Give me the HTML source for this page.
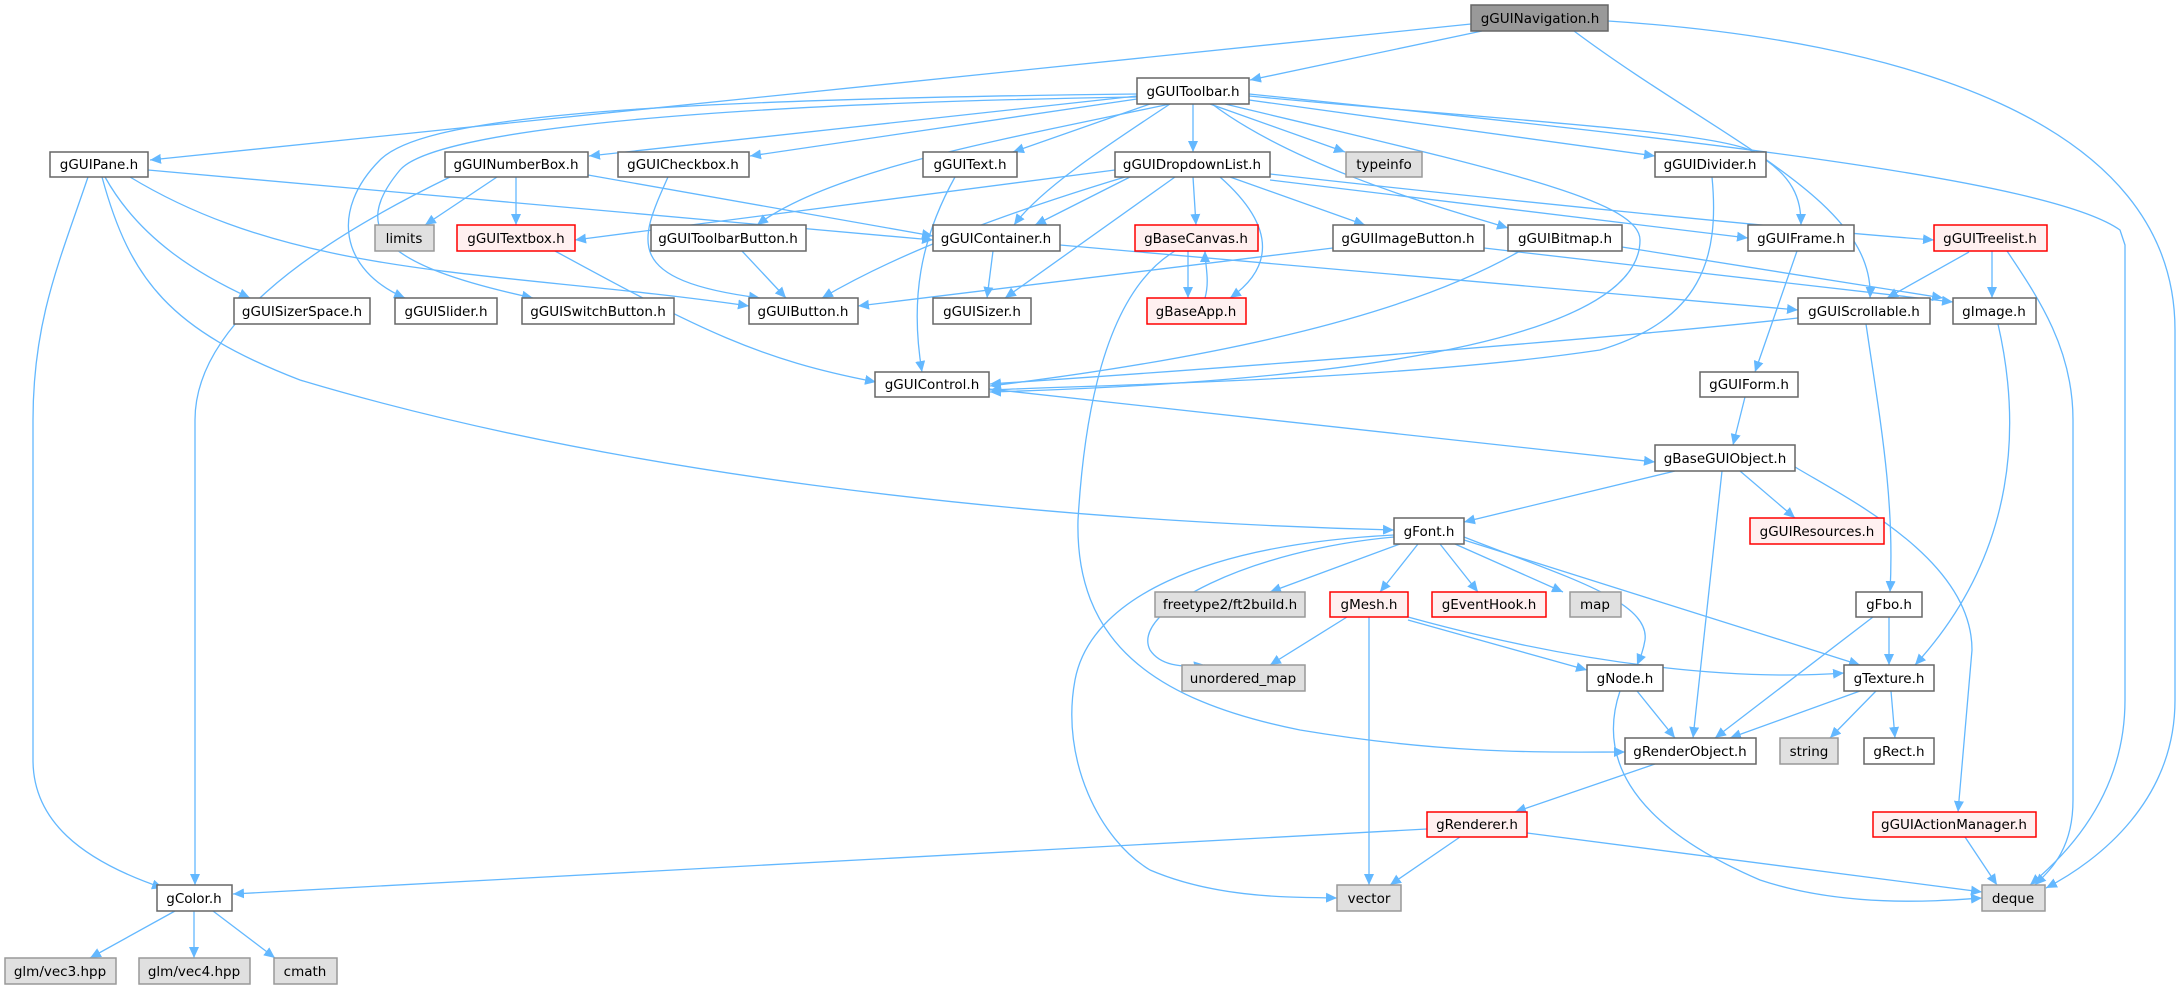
<!DOCTYPE html>
<html><head><meta charset="utf-8"><style>
html,body{margin:0;padding:0;background:#fff;}
svg text{font-family:"DejaVu Sans","Liberation Sans",sans-serif;font-size:13.5px;fill:#000;text-anchor:middle;}
.e{fill:none;stroke:#63b8ff;stroke-width:1.3;marker-end:url(#a);}
.n rect{fill:#fff;stroke:#666;stroke-width:1.5;}
.g rect{fill:#e0e0e0;stroke:#999;stroke-width:1.5;}
.r rect{fill:#fff0f0;stroke:#f00;stroke-width:1.5;}
.t rect{fill:#999;stroke:#666;stroke-width:1.5;}
</style></head><body>
<svg width="2179" height="989" viewBox="0 0 2179 989" xmlns="http://www.w3.org/2000/svg">
<defs><marker id="a" markerUnits="userSpaceOnUse" markerWidth="12" markerHeight="10" refX="11" refY="5" orient="auto"><path d="M0,0 L11,5 L0,10 z" fill="#63b8ff"/></marker></defs>
<g>
<path class="e" d="M1471,24 L150,160"/>
<path class="e" d="M1482,31 L1250,80"/>
<path class="e" d="M1574,31 C1720,140 1875,200 1870,298"/>
<path class="e" d="M1608,21 C1900,40 2175,120 2175,330 L2175,700 C2175,800 2100,860 2046,888"/>
<path class="e" d="M1137,96 L589,156"/>
<path class="e" d="M1137,99 L750,156"/>
<path class="e" d="M1150,104 L1013,152"/>
<path class="e" d="M1137,94 C600,100 420,120 380,160 C330,210 340,270 405,298"/>
<path class="e" d="M1137,97 C650,105 430,135 400,170 C350,230 380,265 533,298"/>
<path class="e" d="M1170,104 C1000,140 830,170 757,225"/>
<path class="e" d="M1170,104 C1100,150 1040,190 1014,225"/>
<path class="e" d="M1193,104 L1193,152"/>
<path class="e" d="M1210,104 L1345,152"/>
<path class="e" d="M1212,104 C1300,170 1450,210 1508,228"/>
<path class="e" d="M1225,104 C1500,170 1640,200 1640,240 C1640,330 1400,380 990,392"/>
<path class="e" d="M1249,100 L1655,156"/>
<path class="e" d="M1249,96 C1500,120 1700,130 1750,150 C1795,175 1801,200 1801,225"/>
<path class="e" d="M1249,94 C1700,140 2050,180 2120,230 L2125,245 L2125,700 C2125,800 2060,860 2030,885"/>
<path class="e" d="M148,170 L933,240"/>
<path class="e" d="M130,177 C300,280 500,270 749,306"/>
<path class="e" d="M105,177 C140,240 200,275 250,298"/>
<path class="e" d="M102,177 C130,280 170,330 300,380 C600,470 1000,520 1394,530"/>
<path class="e" d="M88,177 C60,260 33,320 33,420 L33,760 C33,820 80,860 163,888"/>
<path class="e" d="M450,177 C300,250 195,330 195,420 L195,885"/>
<path class="e" d="M497,177 L425,225"/>
<path class="e" d="M516,177 L516,225"/>
<path class="e" d="M588,175 L933,236"/>
<path class="e" d="M668,177 C640,240 620,280 760,298"/>
<path class="e" d="M955,177 C920,240 910,300 922,372"/>
<path class="e" d="M555,251 C700,330 760,360 876,382"/>
<path class="e" d="M742,251 L786,298"/>
<path class="e" d="M993,251 L987,298"/>
<path class="e" d="M1060,245 L1798,310"/>
<path class="e" d="M1115,170 L575,240"/>
<path class="e" d="M1130,177 L1035,225"/>
<path class="e" d="M1125,177 C950,230 870,270 822,298"/>
<path class="e" d="M1175,177 L1005,298"/>
<path class="e" d="M1193,177 L1196,225"/>
<path class="e" d="M1220,177 C1280,230 1270,270 1230,298"/>
<path class="e" d="M1230,177 L1365,225"/>
<path class="e" d="M1270,180 L1748,238"/>
<path class="e" d="M1270,174 C1500,200 1800,230 1934,240"/>
<path class="e" d="M1188,251 L1188,298"/>
<path class="e" d="M1205,298 C1210,280 1205,265 1205,251"/>
<path class="e" d="M1175,251 C1110,290 1085,400 1078,520 C1075,640 1150,700 1300,730 C1450,755 1550,752 1625,752"/>
<path class="e" d="M1394,535 C1200,545 1090,600 1075,680 C1060,760 1100,840 1150,870 C1220,900 1300,897 1337,898"/>
<path class="e" d="M1394,537 C1250,550 1130,610 1150,650 C1160,665 1180,668 1205,665"/>
<path class="e" d="M1400,544 L1270,592"/>
<path class="e" d="M1418,544 L1380,592"/>
<path class="e" d="M1440,544 L1478,592"/>
<path class="e" d="M1455,544 L1563,592"/>
<path class="e" d="M1464,540 L1860,665"/>
<path class="e" d="M1464,537 C1560,575 1650,600 1645,640 C1643,652 1640,658 1637,665"/>
<path class="e" d="M1347,617 L1270,665"/>
<path class="e" d="M1369,617 L1369,885"/>
<path class="e" d="M1408,620 L1587,670"/>
<path class="e" d="M1408,617 C1600,670 1750,680 1844,673"/>
<path class="e" d="M1675,471 L1464,522"/>
<path class="e" d="M1722,471 L1693,738"/>
<path class="e" d="M1740,471 L1795,518"/>
<path class="e" d="M1795,467 C1850,500 1972,560 1972,650 L1958,812"/>
<path class="e" d="M1745,397 L1733,445"/>
<path class="e" d="M989,389 L1655,462"/>
<path class="e" d="M1797,251 L1755,372"/>
<path class="e" d="M1712,177 C1720,260 1700,320 1600,350 C1400,380 1100,385 990,390"/>
<path class="e" d="M1520,251 C1400,320 1200,360 990,386"/>
<path class="e" d="M1798,318 C1600,340 1200,370 990,384"/>
<path class="e" d="M1866,324 C1880,420 1895,500 1890,592"/>
<path class="e" d="M1333,248 L858,306"/>
<path class="e" d="M1484,248 L1953,302"/>
<path class="e" d="M1622,247 L1943,298"/>
<path class="e" d="M1969,252 L1887,298"/>
<path class="e" d="M1992,251 L1992,298"/>
<path class="e" d="M2007,251 C2040,300 2073,350 2073,420 L2073,800 C2073,850 2050,870 2035,885"/>
<path class="e" d="M1998,324 C2020,420 2020,550 1915,665"/>
<path class="e" d="M1889,617 L1889,665"/>
<path class="e" d="M1873,617 L1715,738"/>
<path class="e" d="M1637,691 L1675,738"/>
<path class="e" d="M1620,691 C1600,750 1620,820 1760,880 C1850,910 1950,900 1982,898"/>
<path class="e" d="M1860,691 L1730,738"/>
<path class="e" d="M1876,691 L1830,738"/>
<path class="e" d="M1891,691 L1895,738"/>
<path class="e" d="M1655,764 L1515,812"/>
<path class="e" d="M1427,829 L233,894"/>
<path class="e" d="M1460,837 L1390,885"/>
<path class="e" d="M1527,833 L1982,892"/>
<path class="e" d="M1965,837 L1997,885"/>
<path class="e" d="M175,911 L90,958"/>
<path class="e" d="M194,911 L194,958"/>
<path class="e" d="M213,911 L275,958"/>
</g>
<g class="t"><rect x="1471" y="5" width="137" height="26"/><text x="1540" y="23">gGUINavigation.h</text></g>
<g class="n"><rect x="1137" y="78" width="112" height="26"/><text x="1193" y="96">gGUIToolbar.h</text></g>
<g class="n"><rect x="50" y="152" width="98" height="25"/><text x="99" y="169">gGUIPane.h</text></g>
<g class="n"><rect x="445" y="152" width="143" height="25"/><text x="516" y="169">gGUINumberBox.h</text></g>
<g class="n"><rect x="618" y="152" width="131" height="25"/><text x="683" y="169">gGUICheckbox.h</text></g>
<g class="n"><rect x="923" y="152" width="94" height="25"/><text x="970" y="169">gGUIText.h</text></g>
<g class="n"><rect x="1115" y="152" width="155" height="25"/><text x="1192" y="169">gGUIDropdownList.h</text></g>
<g class="g"><rect x="1346" y="152" width="76" height="25"/><text x="1384" y="169">typeinfo</text></g>
<g class="n"><rect x="1655" y="152" width="111" height="25"/><text x="1710" y="169">gGUIDivider.h</text></g>
<g class="g"><rect x="375" y="225" width="59" height="26"/><text x="404" y="243">limits</text></g>
<g class="r"><rect x="457" y="225" width="118" height="26"/><text x="516" y="243">gGUITextbox.h</text></g>
<g class="n"><rect x="651" y="225" width="155" height="26"/><text x="728" y="243">gGUIToolbarButton.h</text></g>
<g class="n"><rect x="933" y="225" width="127" height="26"/><text x="996" y="243">gGUIContainer.h</text></g>
<g class="r"><rect x="1135" y="225" width="123" height="26"/><text x="1196" y="243">gBaseCanvas.h</text></g>
<g class="n"><rect x="1333" y="225" width="151" height="26"/><text x="1408" y="243">gGUIImageButton.h</text></g>
<g class="n"><rect x="1508" y="225" width="114" height="26"/><text x="1565" y="243">gGUIBitmap.h</text></g>
<g class="n"><rect x="1748" y="225" width="106" height="26"/><text x="1801" y="243">gGUIFrame.h</text></g>
<g class="r"><rect x="1934" y="225" width="113" height="26"/><text x="1990" y="243">gGUITreelist.h</text></g>
<g class="n"><rect x="234" y="298" width="136" height="26"/><text x="302" y="316">gGUISizerSpace.h</text></g>
<g class="n"><rect x="395" y="298" width="102" height="26"/><text x="446" y="316">gGUISlider.h</text></g>
<g class="n"><rect x="522" y="298" width="152" height="26"/><text x="598" y="316">gGUISwitchButton.h</text></g>
<g class="n"><rect x="749" y="298" width="109" height="26"/><text x="803" y="316">gGUIButton.h</text></g>
<g class="n"><rect x="933" y="298" width="98" height="26"/><text x="982" y="316">gGUISizer.h</text></g>
<g class="r"><rect x="1147" y="298" width="99" height="26"/><text x="1196" y="316">gBaseApp.h</text></g>
<g class="n"><rect x="1798" y="298" width="132" height="26"/><text x="1864" y="316">gGUIScrollable.h</text></g>
<g class="n"><rect x="1953" y="298" width="83" height="26"/><text x="1994" y="316">gImage.h</text></g>
<g class="n"><rect x="875" y="372" width="114" height="25"/><text x="932" y="389">gGUIControl.h</text></g>
<g class="n"><rect x="1700" y="372" width="98" height="25"/><text x="1749" y="389">gGUIForm.h</text></g>
<g class="n"><rect x="1655" y="445" width="140" height="26"/><text x="1725" y="463">gBaseGUIObject.h</text></g>
<g class="n"><rect x="1394" y="518" width="70" height="26"/><text x="1429" y="536">gFont.h</text></g>
<g class="r"><rect x="1750" y="518" width="134" height="26"/><text x="1817" y="536">gGUIResources.h</text></g>
<g class="g"><rect x="1155" y="592" width="150" height="25"/><text x="1230" y="609">freetype2/ft2build.h</text></g>
<g class="r"><rect x="1330" y="592" width="78" height="25"/><text x="1369" y="609">gMesh.h</text></g>
<g class="r"><rect x="1432" y="592" width="114" height="25"/><text x="1489" y="609">gEventHook.h</text></g>
<g class="g"><rect x="1570" y="592" width="51" height="25"/><text x="1595" y="609">map</text></g>
<g class="n"><rect x="1856" y="592" width="66" height="25"/><text x="1889" y="609">gFbo.h</text></g>
<g class="g"><rect x="1182" y="665" width="123" height="26"/><text x="1243" y="683">unordered_map</text></g>
<g class="n"><rect x="1587" y="665" width="76" height="26"/><text x="1625" y="683">gNode.h</text></g>
<g class="n"><rect x="1844" y="665" width="90" height="26"/><text x="1889" y="683">gTexture.h</text></g>
<g class="n"><rect x="1625" y="738" width="131" height="26"/><text x="1690" y="756">gRenderObject.h</text></g>
<g class="g"><rect x="1780" y="738" width="58" height="26"/><text x="1809" y="756">string</text></g>
<g class="n"><rect x="1864" y="738" width="70" height="26"/><text x="1899" y="756">gRect.h</text></g>
<g class="r"><rect x="1427" y="812" width="100" height="25"/><text x="1477" y="829">gRenderer.h</text></g>
<g class="r"><rect x="1873" y="812" width="163" height="25"/><text x="1954" y="829">gGUIActionManager.h</text></g>
<g class="n"><rect x="157" y="885" width="75" height="26"/><text x="194" y="903">gColor.h</text></g>
<g class="g"><rect x="1337" y="885" width="64" height="26"/><text x="1369" y="903">vector</text></g>
<g class="g"><rect x="1982" y="885" width="63" height="26"/><text x="2013" y="903">deque</text></g>
<g class="g"><rect x="5" y="958" width="111" height="26"/><text x="60" y="976">glm/vec3.hpp</text></g>
<g class="g"><rect x="139" y="958" width="111" height="26"/><text x="194" y="976">glm/vec4.hpp</text></g>
<g class="g"><rect x="274" y="958" width="63" height="26"/><text x="305" y="976">cmath</text></g>
</svg>
</body></html>
